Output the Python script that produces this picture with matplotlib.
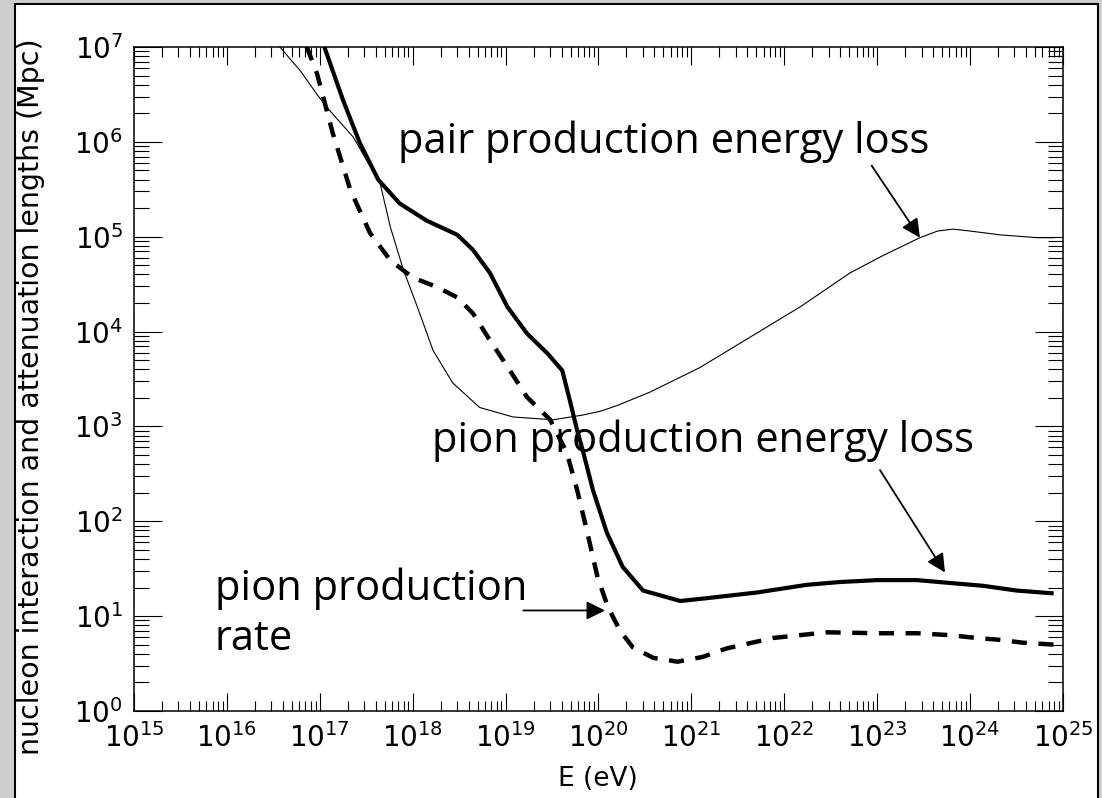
import matplotlib
matplotlib.use('Agg')
import matplotlib.pyplot as plt
from matplotlib.patches import Rectangle
from matplotlib.ticker import LogLocator, FuncFormatter, NullFormatter
import numpy as np

# log10 of energy (eV) and log10 of length (Mpc)
pair_logE = [16.40, 16.57, 16.79, 16.97, 17.08, 17.36, 17.65, 17.76, 17.90, 18.05,
             18.22, 18.43, 18.72, 19.08, 19.51, 19.83, 20.02, 20.20, 20.55, 21.09,
             21.63, 22.17, 22.71, 23.06, 23.46, 23.65, 23.82, 24.00, 24.32, 24.72,
             24.90]
pair_logL = [7.22, 7.00, 6.75, 6.50, 6.36, 6.05, 5.56, 5.10, 4.65, 4.26,
             3.80, 3.46, 3.20, 3.10, 3.07, 3.12, 3.16, 3.22, 3.36, 3.62,
             3.94, 4.26, 4.62, 4.80, 4.99, 5.06, 5.08, 5.06, 5.02, 4.99,
             4.99]

loss_logE = [16.95, 17.06, 17.25, 17.43, 17.63, 17.86, 18.15, 18.48, 18.65, 18.83,
             19.02, 19.23, 19.45, 19.61, 19.69, 19.77, 19.83, 19.94, 20.09, 20.26,
             20.48, 20.88, 21.17, 21.71, 22.24, 22.60, 23.00, 23.43, 23.78, 24.14,
             24.50, 24.90]
loss_logL = [7.30, 6.97, 6.44, 5.99, 5.60, 5.35, 5.17, 5.02, 4.86, 4.62,
             4.26, 3.98, 3.77, 3.59, 3.28, 2.96, 2.75, 2.33, 1.88, 1.52,
             1.27, 1.16, 1.19, 1.25, 1.33, 1.36, 1.38, 1.38, 1.35, 1.32,
             1.27, 1.24]

rate_logE = [16.75, 16.86, 16.97, 17.14, 17.33, 17.54, 17.76, 18.00, 18.26, 18.48,
             18.65, 18.83, 19.02, 19.23, 19.48, 19.66, 19.77, 19.88, 19.99, 20.10,
             20.23, 20.37, 20.59, 20.85, 21.12, 21.38, 21.88, 22.46, 23.00, 23.43,
             23.78, 24.07, 24.32, 24.57, 24.90]
rate_logL = [7.27, 7.00, 6.72, 6.09, 5.49, 5.04, 4.75, 4.57, 4.47, 4.36,
             4.19, 3.91, 3.63, 3.31, 3.07, 2.72, 2.33, 1.88, 1.41, 1.10,
             0.85, 0.67, 0.56, 0.52, 0.57, 0.66, 0.77, 0.83, 0.82, 0.82,
             0.80, 0.77, 0.75, 0.72, 0.70]

def to_lin(v):
    return 10.0 ** np.array(v)

fig = plt.figure(figsize=(11.02, 7.98), dpi=100, facecolor='#cdcdcd')

# white panel with a black frame (behind the axes)
fig.patches.append(Rectangle((15 / 1102, -0.01), 1083 / 1102, 1 - 4 / 798 + 0.01,
                             transform=fig.transFigure, facecolor='white',
                             edgecolor='black', linewidth=1.5, zorder=-10))

ax = fig.add_axes([0.1216, 0.1090, 0.8430, 0.8321])
ax.set_xscale('log')
ax.set_yscale('log')
ax.set_xlim(1e15, 1e25)
ax.set_ylim(1e0, 1e7)

ax.plot(to_lin(pair_logE), to_lin(pair_logL), color='black', lw=0.8)
ax.plot(to_lin(loss_logE), to_lin(loss_logL), color='black', lw=3.0,
        solid_capstyle='butt')
ax.plot(to_lin(rate_logE), to_lin(rate_logL), color='black', lw=3.2,
        dashes=(3.4, 2.6), dash_capstyle='butt')

# ticks
for axis in (ax.xaxis, ax.yaxis):
    axis.set_major_locator(LogLocator(base=10, numticks=30))
    axis.set_minor_locator(LogLocator(base=10, subs=np.arange(2, 10), numticks=100))
    axis.set_minor_formatter(NullFormatter())
    axis.set_major_formatter(FuncFormatter(lambda v, p: r'$10^{%d}$' % round(np.log10(v))))

ax.tick_params(which='both', direction='in', top=True, right=True, width=0.8,
               colors='black')
ax.tick_params(axis='x', which='major', length=13, pad=9, labelsize=20)
ax.tick_params(axis='x', which='minor', length=7)
ax.tick_params(axis='y', which='major', length=20, pad=8, labelsize=20)
ax.tick_params(axis='y', which='minor', length=11)
for sp in ax.spines.values():
    sp.set_linewidth(1.1)

ax.set_xlabel('E (eV)', fontsize=19, family='DejaVu Sans')
ax.xaxis.set_label_coords(0.4995, -0.102)
ax.xaxis.label.set_va('center')
ax.set_ylabel('nucleon interaction and attenuation lengths (Mpc)', fontsize=20.5,
              family='DejaVu Sans')
ax.yaxis.set_label_coords(-0.111, 0.474)
ax.yaxis.label.set_va('center')

# annotations
note_font = dict(family='Open Sans', fontsize=30, color='black')
ax.text(10 ** 17.84, 10 ** 5.88, 'pair production energy loss', ha='left',
        va='baseline', **note_font)
ax.text(10 ** 18.21, 10 ** 2.73, 'pion production energy loss', ha='left',
        va='baseline', **note_font)
ax.text(10 ** 15.87, 10 ** 1.17, 'pion production', ha='left', va='baseline',
        **note_font)
ax.text(10 ** 15.87, 10 ** 0.64, 'rate', ha='left', va='baseline', **note_font)

arrow = dict(arrowstyle='-|>', mutation_scale=28, color='black', lw=1.3,
             shrinkA=0, shrinkB=0)
ax.annotate('', xy=(10 ** 23.46, 10 ** 4.99), xytext=(10 ** 22.94, 10 ** 5.75),
            arrowprops=arrow)
ax.annotate('', xy=(10 ** 23.73, 10 ** 1.46), xytext=(10 ** 23.03, 10 ** 2.54),
            arrowprops=arrow)
ax.annotate('', xy=(10 ** 20.07, 10 ** 1.06), xytext=(10 ** 19.19, 10 ** 1.06),
            arrowprops=arrow)

fig.savefig('out.png', dpi=100, facecolor=fig.get_facecolor())
